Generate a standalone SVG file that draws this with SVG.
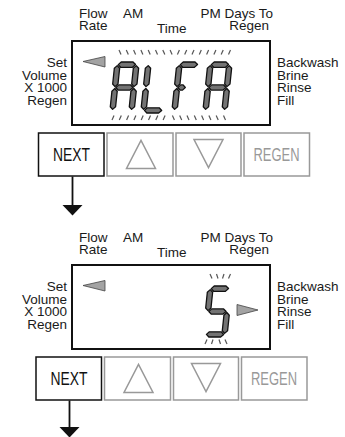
<svg xmlns="http://www.w3.org/2000/svg" width="345" height="437" viewBox="0 0 345 437">
<style>
.lbl{font-family:"Liberation Sans",Arial,sans-serif;font-size:13.5px;fill:#1a1a1a}
.r{text-anchor:end}
.lcd{fill:#fff;stroke:#111;stroke-width:2}
.seg{fill:#737373;stroke:#111;stroke-width:1.3;stroke-linejoin:round}
.tick{stroke:#555;stroke-width:1.2}
.ind{fill:#a3a3a3;stroke:#444;stroke-width:0.8}
.btn{fill:#fff;stroke:#999;stroke-width:1.5}
.btnk{fill:#fff;stroke:#111;stroke-width:1.5}
.tri{fill:none;stroke:#999;stroke-width:1.5}
.bt{font-family:"Liberation Sans",Arial,sans-serif;font-size:18px;text-anchor:middle}
</style>
<defs>
<polygon id="sa" class="seg" points="3.5,2.6 6.2,0 18,0 20.8,2.6 18,5.3 6.2,5.3"/>
<polygon id="sg" class="seg" points="3.5,25.5 6.2,22.9 18,22.9 20.8,25.5 18,28.1 6.2,28.1"/>
<polygon id="sgs" class="seg" points="3.5,25.5 6.2,22.9 8.5,22.9 11,25.5 8.5,28.1 6.2,28.1"/>
<polygon id="sd" class="seg" points="3.5,48.4 6.2,45.8 18,45.8 20.8,48.4 18,51 6.2,51"/>
<polygon id="sf" class="seg" points="2.6,3.6 5.3,6.3 5.3,22 2.6,24.6 0,22 0,6.3"/>
<polygon id="se" class="seg" points="2.6,26.5 5.3,29.2 5.3,44.8 2.6,47.4 0,44.8 0,29.2"/>
<polygon id="sb" class="seg" points="21.6,3.6 24.3,6.3 24.3,22 21.6,24.6 19,22 19,6.3"/>
<polygon id="sc" class="seg" points="21.6,26.5 24.3,29.2 24.3,44.8 21.6,47.4 19,44.8 19,29.2"/>
<g id="dA"><use href="#sa"/><use href="#sb"/><use href="#sc"/><use href="#se"/><use href="#sf"/><use href="#sg"/></g>
<g id="dL"><use href="#sf"/><use href="#se"/><use href="#sd"/></g>
<g id="dF"><use href="#sa"/><use href="#sf"/><use href="#se"/><use href="#sgs"/></g>
<g id="d5"><use href="#sa"/><use href="#sf"/><use href="#sg"/><use href="#sc"/><use href="#sd"/></g>
</defs>

<g id="panel1">
<g id="labels1">
<text class="lbl" x="79" y="18">Flow<tspan x="79" dy="11.5">Rate</tspan></text>
<text class="lbl" x="123" y="18">AM</text>
<text class="lbl" x="157" y="33">Time</text>
<text class="lbl r" x="273" y="18">PM Days To<tspan x="269" dy="11.5">Regen</tspan></text>
<text class="lbl r" x="67" y="66.5">Set<tspan x="67" dy="13">Volume</tspan><tspan x="67" dy="12.5">X 1000</tspan><tspan x="67" dy="12.5">Regen</tspan></text>
<text class="lbl" x="277" y="66.5">Backwash<tspan x="277" dy="13">Brine</tspan><tspan x="277" dy="12.5">Rinse</tspan><tspan x="277" dy="12.5">Fill</tspan></text>
</g>
<g id="lcd1">
<rect class="lcd" x="72" y="41" width="198" height="84"/>
<polygon class="ind" points="83,61.5 105,56.5 105,67"/>
<use href="#dA" transform="translate(115,62) skewX(-6)"/>
<use href="#dL" transform="translate(146,62) skewX(-6)"/>
<use href="#dF" transform="translate(177,62) skewX(-6)"/>
<use href="#dA" transform="translate(208,62) skewX(-6)"/>
<g class="tick">
<line x1="119" y1="50" x2="121" y2="54.5"/><line x1="126.3" y1="50" x2="128.3" y2="54.5"/><line x1="133.6" y1="50" x2="135.6" y2="54.5"/><line x1="140.9" y1="50" x2="142.9" y2="54.5"/>
<line x1="148.2" y1="50" x2="150.2" y2="54.5"/><line x1="155.5" y1="50" x2="157.5" y2="54.5"/><line x1="162.8" y1="50" x2="164.8" y2="54.5"/><line x1="170.1" y1="50" x2="172.1" y2="54.5"/>
<line x1="179.4" y1="50" x2="177.4" y2="54.5"/><line x1="186.7" y1="50" x2="184.7" y2="54.5"/><line x1="194" y1="50" x2="192" y2="54.5"/><line x1="201.3" y1="50" x2="199.3" y2="54.5"/>
<line x1="208.6" y1="50" x2="206.6" y2="54.5"/><line x1="215.9" y1="50" x2="213.9" y2="54.5"/><line x1="223.2" y1="50" x2="221.2" y2="54.5"/><line x1="230.5" y1="50" x2="228.5" y2="54.5"/>
<line x1="114" y1="115.5" x2="112" y2="120"/><line x1="121.3" y1="115.5" x2="119.3" y2="120"/><line x1="128.6" y1="115.5" x2="126.6" y2="120"/><line x1="135.9" y1="115.5" x2="133.9" y2="120"/>
<line x1="143.2" y1="115.5" x2="141.2" y2="120"/><line x1="150.5" y1="115.5" x2="148.5" y2="120"/><line x1="157.8" y1="115.5" x2="155.8" y2="120"/><line x1="165.1" y1="115.5" x2="163.1" y2="120"/>
<line x1="172.4" y1="115.5" x2="174.4" y2="120"/><line x1="179.7" y1="115.5" x2="181.7" y2="120"/><line x1="187" y1="115.5" x2="189" y2="120"/><line x1="194.3" y1="115.5" x2="196.3" y2="120"/>
<line x1="201.6" y1="115.5" x2="203.6" y2="120"/><line x1="208.9" y1="115.5" x2="210.9" y2="120"/><line x1="216.2" y1="115.5" x2="218.2" y2="120"/><line x1="223.5" y1="115.5" x2="225.5" y2="120"/>
</g>
</g>
<g id="next1"><rect class="btnk" x="38.5" y="133" width="65.5" height="43"/><text class="bt" x="71.5" y="160.5" textLength="37" lengthAdjust="spacingAndGlyphs" fill="#111">NEXT</text></g>
<g id="up1"><rect class="btn" x="107" y="133" width="66" height="43"/><polygon class="tri" points="126.5,168.5 155.5,168.5 141,140.5"/></g>
<g id="down1"><rect class="btn" x="176" y="133" width="65" height="43"/><polygon class="tri" points="194,139.5 223,139.5 208.5,167.5"/></g>
<g id="regen1"><rect class="btn" x="244" y="133" width="65.5" height="43"/><text class="bt" x="276.5" y="160.5" textLength="46" lengthAdjust="spacingAndGlyphs" fill="#999">REGEN</text></g>
</g>

<g id="panel2">
<g id="labels2">
<text class="lbl" x="79" y="242">Flow<tspan x="79" dy="11.5">Rate</tspan></text>
<text class="lbl" x="123" y="242">AM</text>
<text class="lbl" x="157" y="257">Time</text>
<text class="lbl r" x="273" y="242">PM Days To<tspan x="269" dy="11.5">Regen</tspan></text>
<text class="lbl r" x="67" y="290.5">Set<tspan x="67" dy="13">Volume</tspan><tspan x="67" dy="12.5">X 1000</tspan><tspan x="67" dy="12.5">Regen</tspan></text>
<text class="lbl" x="277" y="290.5">Backwash<tspan x="277" dy="13">Brine</tspan><tspan x="277" dy="12.5">Rinse</tspan><tspan x="277" dy="12.5">Fill</tspan></text>
</g>
<g id="lcd2">
<rect class="lcd" x="72" y="265" width="198" height="84"/>
<polygon class="ind" points="83,285.5 105,280.5 105,291"/>
<polygon class="ind" points="237,304.5 258,310 237,315.5"/>
<use href="#d5" transform="translate(208,286) skewX(-6)"/>
<g class="tick">
<line x1="210" y1="274" x2="212" y2="278.5"/><line x1="216.5" y1="274" x2="218" y2="278.5"/>
<line x1="224" y1="274" x2="222.5" y2="278.5"/><line x1="230.5" y1="274" x2="228.5" y2="278.5"/>
<line x1="207" y1="339.5" x2="205" y2="344"/><line x1="213" y1="339.5" x2="211.5" y2="344"/>
<line x1="219" y1="339.5" x2="220.5" y2="344"/><line x1="225" y1="339.5" x2="227" y2="344"/>
</g>
</g>
<g id="next2"><rect class="btnk" x="36" y="357" width="65.5" height="43"/><text class="bt" x="69" y="384.5" textLength="37" lengthAdjust="spacingAndGlyphs" fill="#111">NEXT</text></g>
<g id="up2"><rect class="btn" x="104.5" y="357" width="66" height="43"/><polygon class="tri" points="124,392.5 153,392.5 138.5,364.5"/></g>
<g id="down2"><rect class="btn" x="173.5" y="357" width="65" height="43"/><polygon class="tri" points="191.5,363.5 220.5,363.5 206,391.5"/></g>
<g id="regen2"><rect class="btn" x="241.5" y="357" width="65.5" height="43"/><text class="bt" x="274" y="384.5" textLength="46" lengthAdjust="spacingAndGlyphs" fill="#999">REGEN</text></g>
</g>

<g id="connectors">
<line x1="72.5" y1="176.5" x2="72.5" y2="206" stroke="#111" stroke-width="1.8"/>
<polygon points="62.5,205 82.5,205 72.5,215.5" fill="#111"/>
<line x1="69.5" y1="400.5" x2="69.5" y2="428" stroke="#111" stroke-width="1.8"/>
<polygon points="59.5,427 79.5,427 69.5,437.5" fill="#111"/>
</g>
</svg>
